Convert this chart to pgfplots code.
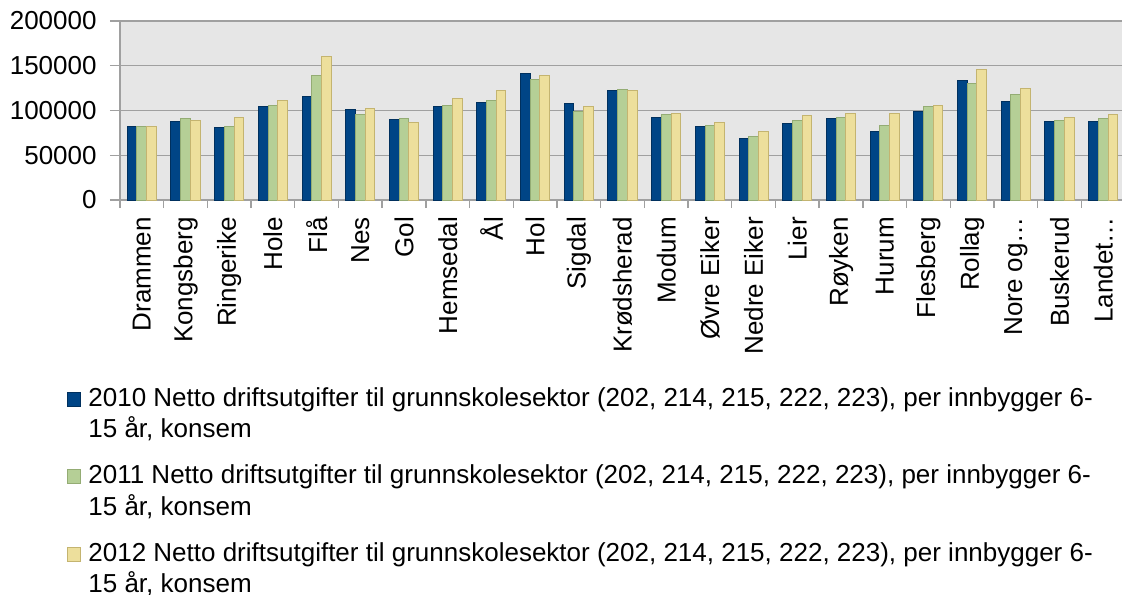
\documentclass[border=0pt]{standalone}
\usepackage{fontspec}
\setmainfont{Liberation Sans}
\usepackage{pgfplots}
\pgfplotsset{compat=1.18}
\definecolor{c2010}{RGB}{0,69,134}
\definecolor{c2010b}{RGB}{0,48,94}
\definecolor{c2011}{RGB}{181,207,150}
\definecolor{c2011b}{RGB}{148,172,116}
\definecolor{c2012}{RGB}{237,223,156}
\definecolor{c2012b}{RGB}{196,180,112}
\definecolor{plotbg}{RGB}{230,230,230}
\definecolor{gridc}{RGB}{160,160,160}
\newcommand\chartfont{\fontsize{13pt}{15.75pt}\selectfont}
\pgfplotsset{sqleg/.style={legend image code/.code={\draw[##1,/tikz/.cd] (0pt,0pt) rectangle (6.7pt,7pt);}}}
\begin{document}
\begin{tikzpicture}
\begin{axis}[
  scale only axis, width=501pt, height=89.5pt,
  at={(0,0)}, anchor=south west,
  xmin=-0.5, xmax=22.43, ymin=0, ymax=200000,
  enlargelimits=false,
  ybar=0pt, bar width=4.85pt,
  axis background/.style={fill=plotbg},
  separate axis lines,
  axis x line*=bottom, axis y line*=left,
  axis line style={-, draw=gridc, line width=0.7pt},
  ymajorgrids, grid style={draw=gridc, line width=0.7pt},
  ytick={0,50000,100000,150000,200000},
  yticklabels={0,50000,100000,150000,200000},
  scaled y ticks=false,
  xtick={0,...,22},
  xticklabels={Drammen,Kongsberg,Ringerike,Hole,Flå,Nes,Gol,Hemsedal,Ål,Hol,Sigdal,Krødsherad,Modum,Øvre Eiker,Nedre Eiker,Lier,Røyken,Hurum,Flesberg,Rollag,Nore og…,Buskerud,Landet…},
  minor xtick={-0.5,0.5,...,21.5},
  tick align=outside,
  major tick length=5pt, minor tick length=4pt,
  major x tick style={draw=none},
  tick style={draw=gridc, line width=0.7pt},
  yticklabel style={font=\chartfont, anchor=east, inner sep=0pt, xshift=-6.5pt},
  xticklabel style={font=\chartfont, yshift=-3.35pt, rotate=90, anchor=east, inner sep=0pt},
  legend style={at={(-0.0529,-1.028)}, anchor=north west, draw=none, fill=none,
    inner sep=0pt, outer sep=0pt, row sep=26.3pt, column sep=3.5pt,
    cells={anchor=base west}, nodes={inner sep=0pt}, font=\chartfont},
]
\addplot[fill=c2010, draw=c2010b, line width=0.5pt, sqleg] coordinates {
(0,82000) (1,87500) (2,80800) (3,104700) (4,115400) (5,101300) (6,89400) (7,105000)
(8,108400) (9,141500) (10,108000) (11,122500) (12,92700) (13,81900) (14,68500) (15,85700)
(16,91300) (17,77100) (18,99400) (19,133000) (20,110300) (21,87200) (22,87200)};
\addplot[fill=c2011, draw=c2011b, line width=0.5pt, sqleg] coordinates {
(0,82000) (1,90900) (2,81900) (3,106100) (4,138900) (5,95700) (6,90900) (7,106100)
(8,111700) (9,134100) (10,99100) (11,123600) (12,95700) (13,83400) (14,71500) (15,89000)
(16,92400) (17,83400) (18,104700) (19,130700) (20,118100) (21,89000) (22,90900)};
\addplot[fill=c2012, draw=c2012b, line width=0.5pt, sqleg] coordinates {
(0,82000) (1,89000) (2,92400) (3,111700) (4,160100) (5,102400) (6,86800) (7,113200)
(8,122100) (9,138900) (10,104300) (11,122100) (12,97200) (13,86800) (14,76300) (15,93900)
(16,97200) (17,97200) (18,106100) (19,145600) (20,125100) (21,92400) (22,95300)};
\addlegendentry{\begin{tabular}[t]{@{}l@{}}2010 Netto driftsutgifter til grunnskolesektor (202, 214, 215, 222, 223), per innbygger 6-\\15 år, konsem\end{tabular}}
\addlegendentry{\begin{tabular}[t]{@{}l@{}}2011 Netto driftsutgifter til grunnskolesektor (202, 214, 215, 222, 223), per innbygger 6-\\15 år, konsem\end{tabular}}
\addlegendentry{\begin{tabular}[t]{@{}l@{}}2012 Netto driftsutgifter til grunnskolesektor (202, 214, 215, 222, 223), per innbygger 6-\\15 år, konsem\end{tabular}}
\end{axis}
\pgfresetboundingbox
\path[use as bounding box] (-60pt,-197pt) rectangle (501pt,100pt);
\end{tikzpicture}
\end{document}
